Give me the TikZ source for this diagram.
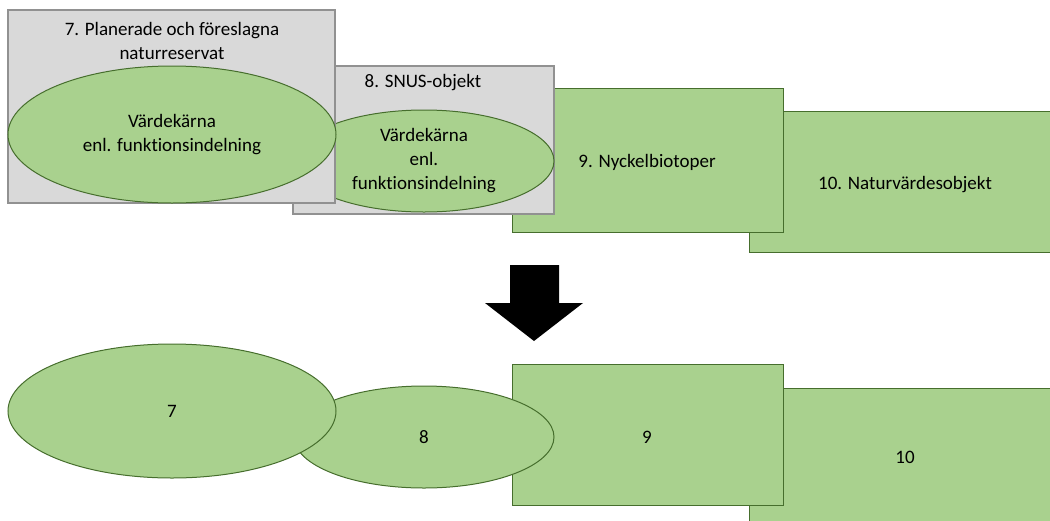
\documentclass[tikz,border=0pt]{standalone}
\usepackage{fontspec}
\setmainfont[Ligatures=NoCommon]{Carlito}
\usetikzlibrary{shapes,positioning}
\definecolor{areagreen}{RGB}{169,209,142}
\definecolor{areaedge}{RGB}{70,110,45}
\definecolor{layergray}{RGB}{217,217,217}
\definecolor{layeredge}{RGB}{145,145,145}
\tikzset{
    % Define standard node styles
    layerbox/.style={
        rectangle, draw=layeredge, line width=1.2pt, fill=layergray,
        inner sep=0pt
    },
    objectbox/.style={
        rectangle, draw=areaedge, line width=1pt, fill=areagreen,
        inner sep=0pt, align=center
    },
    corearea/.style={
        ellipse, draw=areaedge, line width=1pt, fill=areagreen,
        inner sep=0pt, align=center
    },
    layertitle/.style={
        draw=none, fill=none, align=center, inner sep=0pt
    },
    bigarrow/.style={
        fill=black, draw=none
    }
}

\begin{document}
\begin{tikzpicture}[
    x=1pt, y=-1pt,
    every node/.style={font=\fontsize{19}{24}\selectfont}
]
\clip (0,0) rectangle (1050,520);

% before: layers with their core areas
\node[objectbox, minimum width=312pt, minimum height=141pt] (nvo) at (905,181.5) {};
\node[layertitle] (nvotitle) at (905,185) {10. Naturvärdesobjekt};
\node[objectbox, minimum width=271pt, minimum height=144pt] (nyckel) at (647.5,160) {};
\node[layertitle] (nyckeltitle) at (647,162) {9. Nyckelbiotoper};
\node[layerbox, minimum width=261pt, minimum height=148pt] (snus) at (423.5,140) {};
\node[layertitle] (snustitle) at (423,83) {8. SNUS-objekt};
\node[corearea, minimum width=260pt, minimum height=102pt] (snuscore) at (424,161) {Värdekärna\\enl.\\funktionsindelning};
\node[layerbox, minimum width=327pt, minimum height=193pt] (reserv) at (171.5,106.5) {};
\node[layertitle] (reservtitle) at (172,41) {7. Planerade och föreslagna\\naturreservat};
\node[corearea, minimum width=328pt, minimum height=137pt] (reservcore) at (172,134.5) {Värdekärna\\enl. funktionsindelning};

% down arrow
\fill[bigarrow] (510,265) -- (559,265) -- (559,303) -- (583,303) -- (534,341)
    -- (485,303) -- (510,303) -- cycle;

% after: merged areas
\node[objectbox, minimum width=312pt, minimum height=141pt] (nvoB) at (905,458.5) {};
\node[layertitle] (nvoBtitle) at (905,457) {10};
\node[objectbox, minimum width=271pt, minimum height=141pt] (nyckelB) at (647.5,434.5) {};
\node[layertitle] (nyckelBtitle) at (647,437) {9};
\node[corearea, minimum width=260pt, minimum height=102pt] (snusB) at (424,437) {8};
\node[corearea, minimum width=328pt, minimum height=134pt] (reservB) at (172,411) {7};

\end{tikzpicture}
\end{document}
